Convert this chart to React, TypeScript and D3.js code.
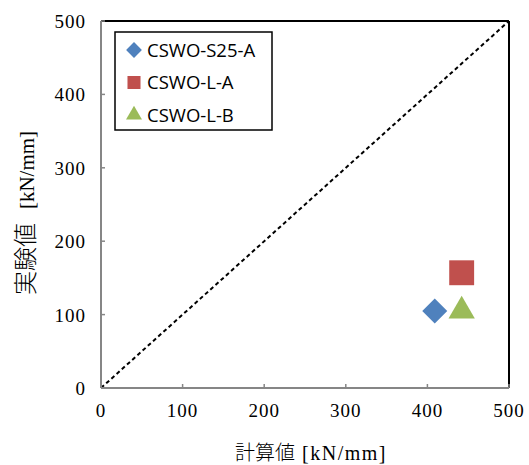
import React from 'react';
import * as d3 from 'd3';

// series
const seriesNames = ['CSWO-S25-A', 'CSWO-L-A', 'CSWO-L-B'];
const calcValues = [409, 442, 442];
const testValues = [105, 157, 105];
const seriesColors = ['#4F81BD', '#C0504D', '#9BBB59'];

const tickValues = [0, 100, 200, 300, 400, 500];

const W = 529;
const H = 465;
const left = 101;
const right = 509;
const top = 21;
const bottom = 388;

// diamond = square turned 45deg
const markerPath = (i: number, sizes: number[]) => {
    const t = i === 2 ? d3.symbolTriangle : d3.symbolSquare;
    return d3.symbol().type(t).size(sizes[i])() as string;
};

export default function App() {
    const x = d3.scaleLinear().domain([0, 500]).range([left, right]);
    const y = d3.scaleLinear().domain([0, 500]).range([bottom, top]);

    const serif = '"Liberation Serif", "DejaVu Serif", "Noto Sans CJK JP", serif';
    const cjk = '"Noto Sans CJK JP", sans-serif';
    const sans = '"Open Sans", "Liberation Sans", sans-serif';

    const plotSizes = [312, 620, 300];
    const legendSizes = [125, 170, 110];

    return (
        <svg width={W} height={H} style={{ position: 'absolute', left: 0, top: 0 }}>
            <rect x={0} y={0} width={W} height={H} fill="#fff" />

            {/* top and right frame */}
            <line x1={left} y1={top} x2={right} y2={top} stroke="#000" strokeWidth={2} />
            <line x1={right} y1={top} x2={right} y2={bottom} stroke="#000" strokeWidth={2} />

            {/* diagonal 1:1 line */}
            <line x1={x(0)} y1={y(0)} x2={x(500)} y2={y(500)}
                stroke="#000" strokeWidth={2} strokeDasharray="4,3" />

            {/* axes */}
            <line x1={left} y1={top} x2={left} y2={bottom} stroke="#868686" strokeWidth={2} />
            <line x1={left} y1={bottom} x2={right} y2={bottom} stroke="#868686" strokeWidth={2} />
            {tickValues.map(t => (
                <g key={'t' + t}>
                    <line x1={x(t)} y1={bottom} x2={x(t)} y2={bottom - 4} stroke="#868686" strokeWidth={1.5} />
                    <line x1={left} y1={y(t)} x2={left + 4} y2={y(t)} stroke="#868686" strokeWidth={1.5} />
                    <text x={x(t)} y={417} textAnchor="middle" fontFamily={serif} fontSize={19} letterSpacing={1}>{t}</text>
                    <text x={86} y={y(t) + 7} textAnchor="end" fontFamily={serif} fontSize={19} letterSpacing={1}>{t}</text>
                </g>
            ))}

            {/* axis titles */}
            <text x={311} y={460} textAnchor="middle" fontFamily={serif} fontSize={20}>
                <tspan fontFamily={cjk} fontWeight={300}>計算値</tspan>
                <tspan dx={7} letterSpacing={1.5}>[kN/mm]</tspan>
            </text>
            <text transform="translate(34,213) rotate(-90)" textAnchor="middle" fontFamily={serif} fontSize={24}>
                <tspan fontFamily={cjk} fontWeight={300}>実験値</tspan>
                <tspan dx={14} fontSize={21} letterSpacing={0}>[kN/mm]</tspan>
            </text>

            {/* points */}
            {seriesNames.map((n, i) => (
                <path key={n}
                    d={markerPath(i, plotSizes)}
                    transform={`translate(${x(calcValues[i])},${y(testValues[i])})${i === 0 ? ' rotate(45)' : ''}`}
                    fill={seriesColors[i]} />
            ))}

            {/* legend */}
            <rect x={115} y={32} width={157} height={98} fill="#fff" stroke="#000" strokeWidth={1.5} />
            {seriesNames.map((n, i) => (
                <g key={'l' + n} transform={`translate(134,${50 + i * 32.5})`}>
                    <path d={markerPath(i, legendSizes)} transform={i === 0 ? 'rotate(45)' : ''}
                        fill={seriesColors[i]} />
                    <text x={13} y={6.5} fontFamily={sans} fontSize={18.5}>{n}</text>
                </g>
            ))}
        </svg>
    );
}
